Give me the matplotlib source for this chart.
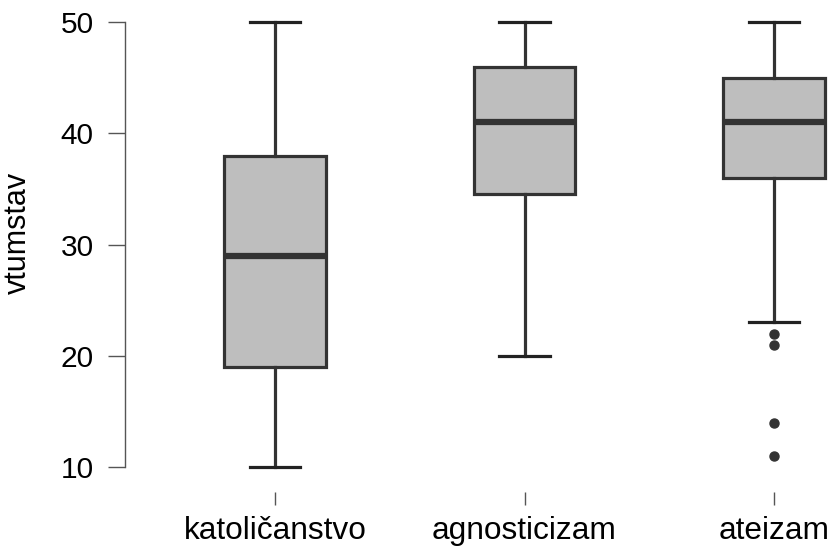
import matplotlib
matplotlib.use("Agg")
import matplotlib.pyplot as plt

categories = ["katoličanstvo", "agnosticizam", "ateizam"]
medians = [29, 41, 41]
q1 = [19, 34.5, 36]
q3 = [38, 46, 45]
whisker_low = [10, 20, 23]
whisker_high = [50, 50, 50]
outliers = [[], [], [22, 21, 14, 11]]
y_ticks = [10, 20, 30, 40, 50]

plt.rcParams['font.family'] = ['Liberation Sans', 'DejaVu Sans']

W, H = 833, 548
fig = plt.figure(figsize=(W / 100, H / 100), dpi=100)
left_px, right_px, top_px, bot_px = 125, 833, 4, 492
ax = fig.add_axes([left_px / W, 1 - bot_px / H, (right_px - left_px) / W, (bot_px - top_px) / H])

stats = []
for i in range(len(categories)):
    stats.append(dict(med=medians[i], q1=q1[i], q3=q3[i], whislo=whisker_low[i],
                      whishi=whisker_high[i], fliers=outliers[i], label=categories[i]))

edge = '#333333'
ax.bxp(stats, positions=[1, 2, 3], widths=0.405, patch_artist=True,
       boxprops=dict(facecolor='#BEBEBE', edgecolor=edge, linewidth=2.3),
       medianprops=dict(color=edge, linewidth=4.5, solid_capstyle='butt'),
       whiskerprops=dict(color=edge, linewidth=2.3),
       capprops=dict(color='#222222', linewidth=2.3),
       flierprops=dict(marker='o', markerfacecolor=edge, markeredgecolor=edge, markersize=6.5))

# pixel mapping: 50 -> 22px, 10 -> 467px ; x=1 -> 275px, unit 249.5px
ppu_y = (467 - 22) / 40
ax.set_ylim(10 - (bot_px - 467) / ppu_y, 50 + (22 - top_px) / ppu_y)
ppu_x = 249.5
ax.set_xlim(1 - (275 - left_px) / ppu_x, 1 + (right_px - 275) / ppu_x)

for s in ['top', 'right', 'bottom']:
    ax.spines[s].set_visible(False)
ax.spines['left'].set_bounds(10, 50)
ax.spines['left'].set_color('#555555')
ax.spines['left'].set_linewidth(1.0)

ax.set_yticks(y_ticks)
ax.set_yticklabels([str(t) for t in y_ticks])
ax.set_xticks([1, 2, 3])
ax.set_xticklabels(categories)
ax.tick_params(axis='y', direction='out', length=12.5, width=1.0, color='#555555', labelsize=21.5, pad=10)
ax.tick_params(axis='x', direction='out', length=9.5, width=1.0, color='#555555', labelsize=22.8, pad=8)
ax.set_ylabel('vtumstav', fontsize=22)
ax.yaxis.set_label_coords(-(125 - 33) / (right_px - left_px), 1 - (233 - top_px) / (bot_px - top_px))
ax.patch.set_visible(False)

fig.savefig('out.png', dpi=100)
